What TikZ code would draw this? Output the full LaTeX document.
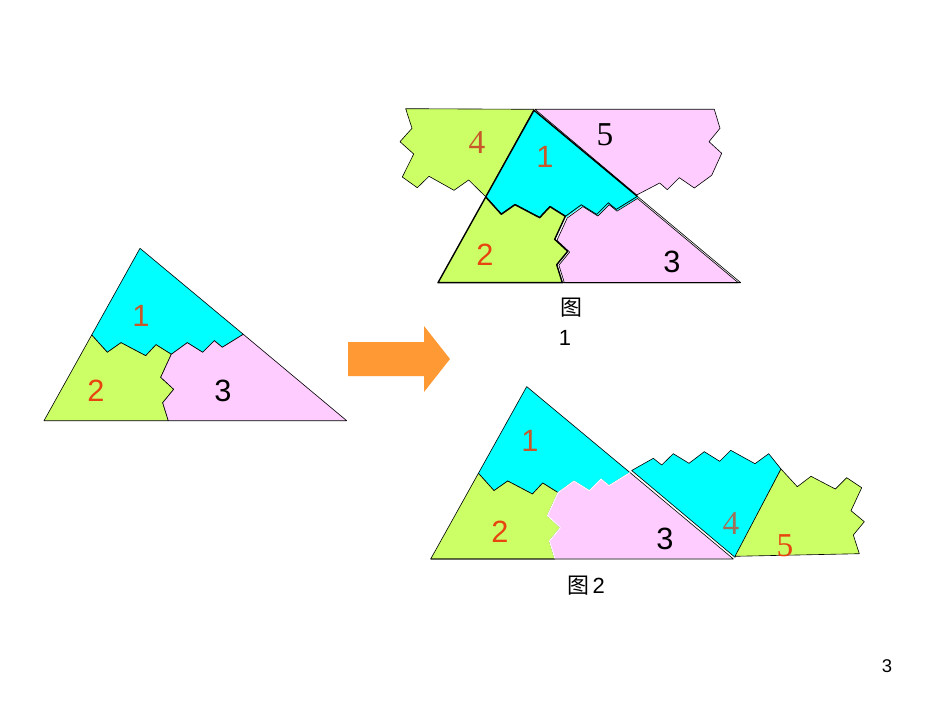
\documentclass[tikz,border=0pt]{standalone}
\usepackage{fontspec}
\setmainfont{Liberation Sans}
\newfontfamily\numfont{Liberation Serif}
\newfontfamily\cjkfont{Noto Sans CJK SC}
\usepackage{xcolor}
\usepackage{tikz}
\definecolor{piececyan}{HTML}{00FFFF}
\definecolor{piecegreen}{HTML}{CCFF66}
\definecolor{piecepink}{HTML}{FFCCFF}
\definecolor{labelred}{HTML}{E8440F}
\definecolor{labelbrown}{HTML}{C8572A}
\definecolor{labelgrey}{HTML}{A0705A}
\definecolor{arroworange}{HTML}{FF9933}
% the three pieces of the triangle
\newcommand{\pieceone}{(140,248.3) -- (91.7,335) -- (107.3,352.3) -- (121,342.7) -- (145.7,355.7) -- (156,344.7) -- (171.3,354.3) -- (187.3,342.7) -- (202.7,352.3) -- (214.3,340.7) -- (222.3,347.3) -- (243.3,334.3) -- cycle}
\newcommand{\piecetwo}{(91.7,335) -- (107.3,352.3) -- (121,342.7) -- (145.7,355.7) -- (156,344.7) -- (171.3,354.3) -- (160.7,377.3) -- (173.7,389.3) -- (162.7,402.7) -- (168.3,420.7) -- (44,420.7) -- cycle}
\newcommand{\piecethree}{(171.3,354.3) -- (187.3,342.7) -- (202.7,352.3) -- (214.3,340.7) -- (222.3,347.3) -- (243.3,334.3) -- (346.7,420.7) -- (168.3,420.7) -- (162.7,402.7) -- (173.7,389.3) -- (160.7,377.3) -- cycle}
\newcommand{\zigright}{(171.3,354.3) -- (187.3,342.7) -- (202.7,352.3) -- (214.3,340.7) -- (222.3,347.3) -- (243.3,334.3)}
\begin{document}
\begin{tikzpicture}[
  x=0.02cm,y=-0.02cm,
  line join=round,
  piece/.style={draw=black,line width=0.35pt},
  heavy/.style={draw=black,line width=0.8pt},
  num/.style={font=\fontsize{17.5}{17.5}\selectfont},
  serifnum/.style={font=\fontsize{19}{19}\selectfont\numfont},
  caption/.style={font=\fontsize{12.5}{14}\selectfont,inner sep=0pt}
]
  \useasboundingbox (0,0) rectangle (950,713);
  % triangle on the left
  \fill[piececyan,piece] \pieceone;
  \fill[piecegreen,piece] \piecetwo;
  \fill[piecepink,piece] \piecethree;
  \node[num,text=labelbrown] (leftone) at (141,316) {1};
  \node[num,text=labelred] (lefttwo) at (96,391) {2};
  \node[num] (leftthree) at (223,391) {3};
  % block arrow
  \fill[arroworange] (348,342) -- (424,342) -- (424,326) -- (450,359) -- (424,392) -- (424,376) -- (348,376) -- cycle;
  % figure 1
  \fill[piecegreen,piece] (405.7,108.7) -- (412,128.3) -- (400,141.7) -- (413.7,154) -- (402.3,177) -- (417.3,187.7) -- (429,176.3) -- (454,190.3) -- (468.7,180) -- (485.7,196.7) -- (534,109.3) -- cycle;
  \fill[piecepink,piece] (535,109.3) -- (714.3,109.3) -- (720,128.3) -- (709,141.7) -- (721.7,153.3) -- (711.7,175.3) -- (694.3,188) -- (679.3,177.7) -- (667.3,189.7) -- (659.7,183) -- (636.7,195) -- cycle;
  \begin{scope}[shift={(394,-138)}]
    \fill[white] \piecethree;
    \draw[piececyan,line width=1.6pt] \zigright;
    \draw[piece] \piecethree;
    \fill[piecepink,piece,scale around={0.975:(250,420.7)}] \piecethree;
    \fill[piececyan] \pieceone;
    \draw[piece] \zigright;
    \draw[heavy] (243.3,334.3) -- (140,248.3) -- (91.7,335) -- (107.3,352.3) -- (121,342.7) -- (145.7,355.7) -- (156,344.7) -- (171.3,354.3);
    \fill[piecegreen,heavy] \piecetwo;
    \draw[heavy] (44,420.7) -- (346.7,420.7);
  \end{scope}
  \node[serifnum,text=labelbrown] (upfour) at (477,143) {4};
  \node[serifnum] (upfive) at (605,135) {5};
  \node[num,text=labelbrown] (upone) at (545,157) {1};
  \node[num,text=labelred] (uptwo) at (485,255) {2};
  \node[num] (upthree) at (672,262) {3};
  \node[caption] (upcap) at (571,308) {\cjkfont 图};
  \node[caption] (upcapnum) at (565,338) {1};
  % figure 2
  \begin{scope}[shift={(386.7,138.3)}]
    \fill[piececyan,piece] \pieceone;
    \fill[piecegreen,piece] \piecetwo;
    \filldraw[fill=piecepink,draw=white,line width=0.5pt] \piecethree;
    \draw[piece] (243.3,334.3) -- (346.7,420.7) -- (44,420.7);
  \end{scope}
  \fill[piececyan,piece] (631.7,470.5) -- (653.3,458.3) -- (661.7,465) -- (673.3,453.7) -- (689,463.3) -- (704.3,451.7) -- (719.7,461.3) -- (730.7,450.3) -- (755,463.7) -- (768.7,453.7) -- (781,469) -- (735,557.3) -- cycle;
  \fill[piecegreen,piece] (781,469) -- (797.3,486.7) -- (811,476.3) -- (835.3,489) -- (846.7,477.7) -- (861.7,487.7) -- (851,510.7) -- (864.3,521.7) -- (853.3,535) -- (859.3,553.7) -- (735,556.3) -- cycle;
  \node[num,text=labelbrown] (lowone) at (530,441) {1};
  \node[num,text=labelred] (lowtwo) at (500,532) {2};
  \node[num] (lowthree) at (665,539) {3};
  \node[serifnum,text=labelgrey] (lowfour) at (731,524) {4};
  \node[serifnum,text=labelred] (lowfive) at (785,546) {5};
  \node[caption] (lowcap) at (586,586) {{\cjkfont 图}\,2};
  % page number
  \node[font=\fontsize{10.5}{12}\selectfont,inner sep=0pt] (pagenum) at (887,666) {3};
\end{tikzpicture}
\end{document}
